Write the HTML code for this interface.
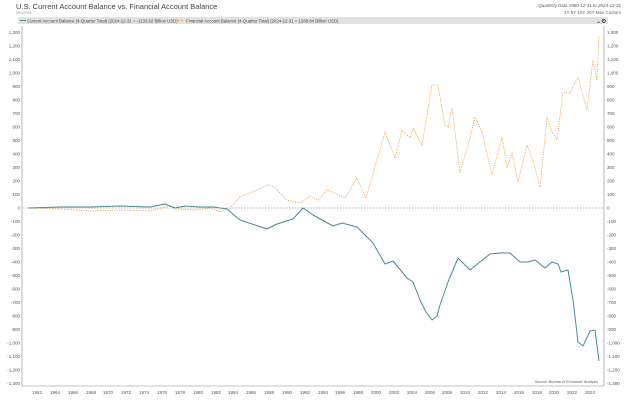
<!DOCTYPE html>
<html><head><meta charset="utf-8"><style>
html,body{margin:0;padding:0;background:#fff;}
body{width:624px;height:400px;overflow:hidden;font-family:"Liberation Sans",sans-serif;}
</style></head><body>
<svg width="624" height="400" viewBox="0 0 624 400" xmlns="http://www.w3.org/2000/svg" font-family="Liberation Sans, sans-serif">
<text x="16" y="9" font-size="7.5" fill="#444">U.S. Current Account Balance vs. Financial Account Balance</text>
<text x="16" y="14" font-size="3.5" fill="#999">09/4/2025</text>
<text x="621" y="7" font-size="4.5" fill="#555" text-anchor="end" font-style="italic">Quarterly Data 1960-12-31 to 2024-12-31</text>
<text x="621" y="14" font-size="4.5" fill="#666" text-anchor="end">1Y   5Y   10Y   20Y   Max   Custom</text>
<rect x="18" y="17" width="590" height="7" fill="#e2e2e2"/>
<line x1="20" y1="20.5" x2="26" y2="20.5" stroke="#4a8a94" stroke-width="1"/>
<text x="27" y="22.3" font-size="4.3" fill="#444">Current Account Balance (4-Quarter Total) (2024-12-31 = -1133.62 Billion USD)</text>
<line x1="178" y1="20.5" x2="184" y2="20.5" stroke="#e8a050" stroke-width="1" stroke-dasharray="1,1"/>
<text x="186" y="22.3" font-size="4.3" fill="#444">Financial Account Balance (4-Quarter Total) (2024-12-31 = 1268.84 Billion USD)</text>
<text x="596" y="23" font-size="6" fill="#222">⌄⚙</text>
<line x1="22" y1="26" x2="22" y2="386" stroke="#888" stroke-width="0.6"/>
<line x1="604" y1="26" x2="604" y2="386" stroke="#888" stroke-width="0.6"/>
<line x1="22" y1="386" x2="604" y2="386" stroke="#888" stroke-width="0.6"/>
<g font-size="4.5" fill="#555">
<g text-anchor="end">
<text x="20" y="34">1,300</text><text x="20" y="47.5">1,200</text><text x="20" y="61">1,100</text><text x="20" y="74.5">1,000</text><text x="20" y="88">900</text><text x="20" y="101.5">800</text><text x="20" y="115">700</text><text x="20" y="128.5">600</text><text x="20" y="142">500</text><text x="20" y="155.5">400</text><text x="20" y="169">300</text><text x="20" y="182.5">200</text><text x="20" y="196">100</text><text x="20" y="209.5">0</text><text x="20" y="223">-100</text><text x="20" y="236.5">-200</text><text x="20" y="250">-300</text><text x="20" y="263.5">-400</text><text x="20" y="277">-500</text><text x="20" y="290.5">-600</text><text x="20" y="304">-700</text><text x="20" y="317.5">-800</text><text x="20" y="331">-900</text><text x="20" y="344.5">-1,000</text><text x="20" y="358">-1,100</text><text x="20" y="371.5">-1,200</text><text x="20" y="385">-1,300</text>
</g>
<g>
<text x="607" y="34">1,300</text><text x="607" y="47.5">1,200</text><text x="607" y="61">1,100</text><text x="607" y="74.5">1,000</text><text x="607" y="88">900</text><text x="607" y="101.5">800</text><text x="607" y="115">700</text><text x="607" y="128.5">600</text><text x="607" y="142">500</text><text x="607" y="155.5">400</text><text x="607" y="169">300</text><text x="607" y="182.5">200</text><text x="607" y="196">100</text><text x="607" y="209.5">0</text><text x="607" y="223">-100</text><text x="607" y="236.5">-200</text><text x="607" y="250">-300</text><text x="607" y="263.5">-400</text><text x="607" y="277">-500</text><text x="607" y="290.5">-600</text><text x="607" y="304">-700</text><text x="607" y="317.5">-800</text><text x="607" y="331">-900</text><text x="607" y="344.5">-1,000</text><text x="607" y="358">-1,100</text><text x="607" y="371.5">-1,200</text><text x="607" y="385">-1,300</text>
</g>
<g text-anchor="middle">
<text x="37" y="394">1962</text><text x="55" y="394">1964</text><text x="73" y="394">1966</text><text x="91" y="394">1968</text><text x="108" y="394">1970</text><text x="126" y="394">1972</text><text x="144" y="394">1974</text><text x="162" y="394">1976</text><text x="180" y="394">1978</text><text x="198" y="394">1980</text><text x="216" y="394">1982</text><text x="233" y="394">1984</text><text x="251" y="394">1986</text><text x="269" y="394">1988</text><text x="287" y="394">1990</text><text x="305" y="394">1992</text><text x="323" y="394">1994</text><text x="340" y="394">1996</text><text x="358" y="394">1998</text><text x="376" y="394">2000</text><text x="394" y="394">2002</text><text x="412" y="394">2004</text><text x="430" y="394">2006</text><text x="447" y="394">2008</text><text x="465" y="394">2010</text><text x="483" y="394">2012</text><text x="501" y="394">2014</text><text x="519" y="394">2016</text><text x="537" y="394">2018</text><text x="554" y="394">2020</text><text x="572" y="394">2022</text><text x="590" y="394">2024</text>
</g>
</g>
<text x="598" y="383" font-size="3.8" fill="#555" font-style="italic" text-anchor="end">Source: Bureau of Economic Analysis</text>
<line x1="22" y1="208" x2="604" y2="208" stroke="#999" stroke-width="0.7" stroke-dasharray="1.5,1.5"/>
<polyline fill="none" stroke="#e8a050" stroke-width="0.8" stroke-dasharray="1.2,1.2" points="28,208 60,209 90,211 120,210 150,211 170,206 180,209 195,210 210,208 220,212 230,208 240,197 255,191 268,185 273,186 287,200 300,203 310,196 318,200 327,190 335,193 345,198 357,178 366,198 373,173 380,150 385,132 395,158 402,130 410,138 413,128 422,145 432,85 438,85 445,125 448,127 452,108 460,173 470,138 475,117 482,132 492,175 502,137 507,167 512,153 518,182 527,145 533,160 540,188 547,117 552,132 557,140 563,92 570,93 578,77 587,110 593,60 597,80 599,36"/>
<polyline fill="none" stroke="#4a8a94" stroke-width="1" stroke-linejoin="round" points="28,208 60,207 90,207 120,206 150,207 165,204 175,208 185,206 200,207 213,207 227,209 240,220 267,229 277,224 293,219 303,208 313,215 333,226 342,223 357,227 373,243 385,264 393,261 407,278 413,282 420,300 426,312 432,320 437,316 440,305 448,282 458,258 464,264 470,270 480,262 490,254 500,253 510,253 520,262 528,262 535,260 545,268 552,262 558,264 561,272 568,270 573,300 578,342 583,346 590,331 595,330 599,361"/>
</svg>
</body></html>
